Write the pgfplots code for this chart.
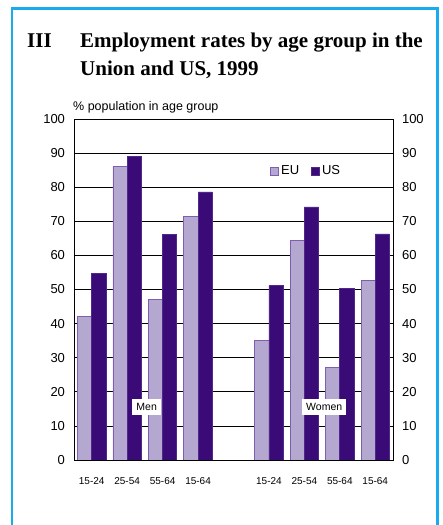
\documentclass[border=0pt]{standalone}
\usepackage{pgfplots}
\pgfplotsset{compat=1.18}
\usepackage{pgfplotstable}
\usepackage{fontspec}
\setmainfont{Liberation Sans}
\newfontfamily\titlefont{Liberation Serif}
\definecolor{frameblue}{RGB}{24,172,238}
\definecolor{eufill}{RGB}{180,167,208}
\definecolor{euedge}{RGB}{126,94,176}
\definecolor{usfill}{RGB}{58,11,119}
\definecolor{usedge}{RGB}{80,40,140}

% employment rate (%) by age group; x = slot (men 0-3, women 5-8)
\pgfplotstableread{
x eu us
0 42.2 54.6
1 86.2 88.9
2 47.1 66.1
3 71.5 78.6
5 35.1 51.1
6 64.5 74.2
7 27.1 50.3
8 52.6 66.3
}\rates

\begin{document}
\begin{tikzpicture}
% frame
\draw[frameblue, line width=2.5pt] (12pt,-20pt) -- (12pt,516.5pt) -- (437.5pt,516.5pt) -- (437.5pt,-20pt);
% title
\node[anchor=base west, inner sep=0, font=\titlefont\bfseries\fontsize{21}{24}\selectfont] at (27pt,477pt) {III};
\node[anchor=base west, inner sep=0, font=\titlefont\bfseries\fontsize{21}{24}\selectfont] at (80pt,477pt) {Employment rates by age group in the};
\node[anchor=base west, inner sep=0, font=\titlefont\bfseries\fontsize{21}{24}\selectfont] at (80pt,449pt) {Union and US, 1999};
\node[anchor=base west, inner sep=0, font=\fontsize{12.5}{14}\selectfont] at (73pt,414pt) {\% population in age group};

\begin{axis}[
    at={(74pt,65pt)}, anchor=south west,
    scale only axis, width=319pt, height=341pt,
    xmin=-0.5, xmax=8.5, ymin=0, ymax=100,
    ybar=0pt, bar width=14.2pt,
    xtick={0,1,2,3,5,6,7,8},
    xticklabels={15-24,25-54,55-64,15-64,15-24,25-54,55-64,15-64},
    ytick={0,10,...,100},
    /pgf/number format/assume math mode=true,
    ymajorgrids, grid style={black, line width=0.7pt},
    axis line style={black, line width=0.8pt},
    tick style={draw=none},
    xticklabel style={font=\fontsize{10}{12}\selectfont, yshift=-10pt},
    yticklabel style={font=\fontsize{13}{15}\selectfont, xshift=-5.5pt},
    legend style={at={(0.615,0.847)}, anchor=west, draw=none, fill=none,
        font=\fontsize{13}{15}\selectfont, inner sep=0pt,
        /tikz/every even column/.append style={column sep=10pt}},
    legend columns=2,
    legend image code/.code={\draw[#1, line width=0.8pt] (0pt,-4pt) rectangle (8pt,4pt);},
]
\addplot[fill=eufill, draw=euedge, line width=0.8pt] table[x=x, y=eu] {\rates};
\addplot[fill=usfill, draw=usedge, line width=0.8pt] table[x=x, y=us] {\rates};
\legend{EU, US}
\node[fill=white, inner sep=4pt, font=\fontsize{10.5}{12}\selectfont] at (axis cs:1.55,15.5) {Men};
\node[fill=white, inner sep=4pt, font=\fontsize{10.5}{12}\selectfont] at (axis cs:6.56,15.5) {Women};
\end{axis}

\begin{axis}[
    at={(74pt,65pt)}, anchor=south west,
    scale only axis, width=319pt, height=341pt,
    xmin=-0.5, xmax=8.5, ymin=0, ymax=100,
    hide x axis, axis y line*=right,
    ytick={0,10,...,100},
    /pgf/number format/assume math mode=true,
    axis line style={black, line width=0.8pt},
    tick style={draw=none},
    yticklabel style={font=\fontsize{13}{15}\selectfont, xshift=5.5pt},
]
\end{axis}

\pgfresetboundingbox
\useasboundingbox (0pt,0pt) rectangle (443pt,525pt);
\end{tikzpicture}
\end{document}
